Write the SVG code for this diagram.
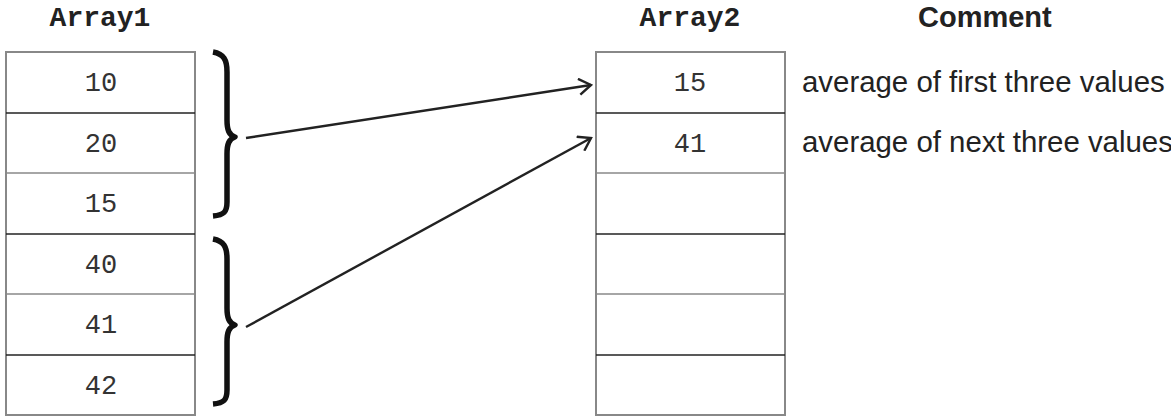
<svg xmlns="http://www.w3.org/2000/svg" width="1171" height="416" viewBox="0 0 1171 416">
<style>
.hdr{font-family:"Liberation Mono","Courier New",monospace;font-weight:bold;font-size:28px;fill:#222;text-anchor:middle}
.num{font-family:"Liberation Mono","Courier New",monospace;font-size:27px;fill:#333;text-anchor:middle}
.cmt{font-family:"Liberation Sans",Arial,sans-serif;font-size:29.4px;fill:#222}
.cmth{font-family:"Liberation Sans",Arial,sans-serif;font-size:29px;font-weight:bold;fill:#222}
.outer{fill:#fff;stroke:#888;stroke-width:2}
.dk{stroke:#222;stroke-width:1.6}
.lt{stroke:#888;stroke-width:1.6}
.brace{fill:none;stroke:#111;stroke-width:5.5;stroke-linejoin:round}
.conn{fill:none;stroke:#222;stroke-width:2.4}
</style>
<defs>
<marker id="arr" viewBox="-14 -9 16 18" refX="0" refY="0" markerWidth="16" markerHeight="18" markerUnits="userSpaceOnUse" orient="auto">
<path d="M-12,-8 L0,0 L-12,8" fill="none" stroke="#222" stroke-width="2.4"/>
</marker>
</defs>
<g id="header-array1"><text class="hdr" x="100" y="26">Array1</text></g>
<g id="header-array2"><text class="hdr" x="690" y="26">Array2</text></g>
<g id="header-comment"><text class="cmth" x="918" y="27">Comment</text></g>
<g id="array1">
<rect class="outer" x="6" y="52" width="189" height="363"/>
<line class="dk" x1="6" y1="113" x2="195" y2="113"/>
<line class="lt" x1="6" y1="173" x2="195" y2="173"/>
<line class="dk" x1="6" y1="234" x2="195" y2="234"/>
<line class="lt" x1="6" y1="294" x2="195" y2="294"/>
<line class="dk" x1="6" y1="355" x2="195" y2="355"/>
<text class="num" x="101" y="91">10</text>
<text class="num" x="101" y="152">20</text>
<text class="num" x="101" y="212">15</text>
<text class="num" x="101" y="273">40</text>
<text class="num" x="101" y="333">41</text>
<text class="num" x="101" y="394">42</text>
</g>
<g id="array2">
<rect class="outer" x="596" y="52" width="189" height="363"/>
<line class="dk" x1="596" y1="113" x2="785" y2="113"/>
<line class="lt" x1="596" y1="173" x2="785" y2="173"/>
<line class="dk" x1="596" y1="234" x2="785" y2="234"/>
<line class="lt" x1="596" y1="294" x2="785" y2="294"/>
<line class="dk" x1="596" y1="355" x2="785" y2="355"/>
<text class="num" x="690" y="91">15</text>
<text class="num" x="690" y="152">41</text>
</g>
<g id="comment1"><text class="cmt" x="802" y="92">average of first three values</text></g>
<g id="comment2"><text class="cmt" x="802" y="152">average of next three values</text></g>
<g id="brace1"><path class="brace" d="M213,52 C224,54 227,60 227,72 L227,120 C227,130 229,135 235,137 C229,139 227,144 227,154 L227,202 C227,212 224,215 213,216"/></g>
<g id="brace2"><path class="brace" d="M213,239 C224,241 227,247 227,259 L227,308 C227,318 229,323 235,325 C229,327 227,332 227,342 L227,390 C227,400 224,403 213,404"/></g>
<g id="connectors">
<line class="conn" x1="246" y1="138" x2="591" y2="85" marker-end="url(#arr)"/>
<line class="conn" x1="246" y1="327" x2="591" y2="138" marker-end="url(#arr)"/>
</g>
</svg>
